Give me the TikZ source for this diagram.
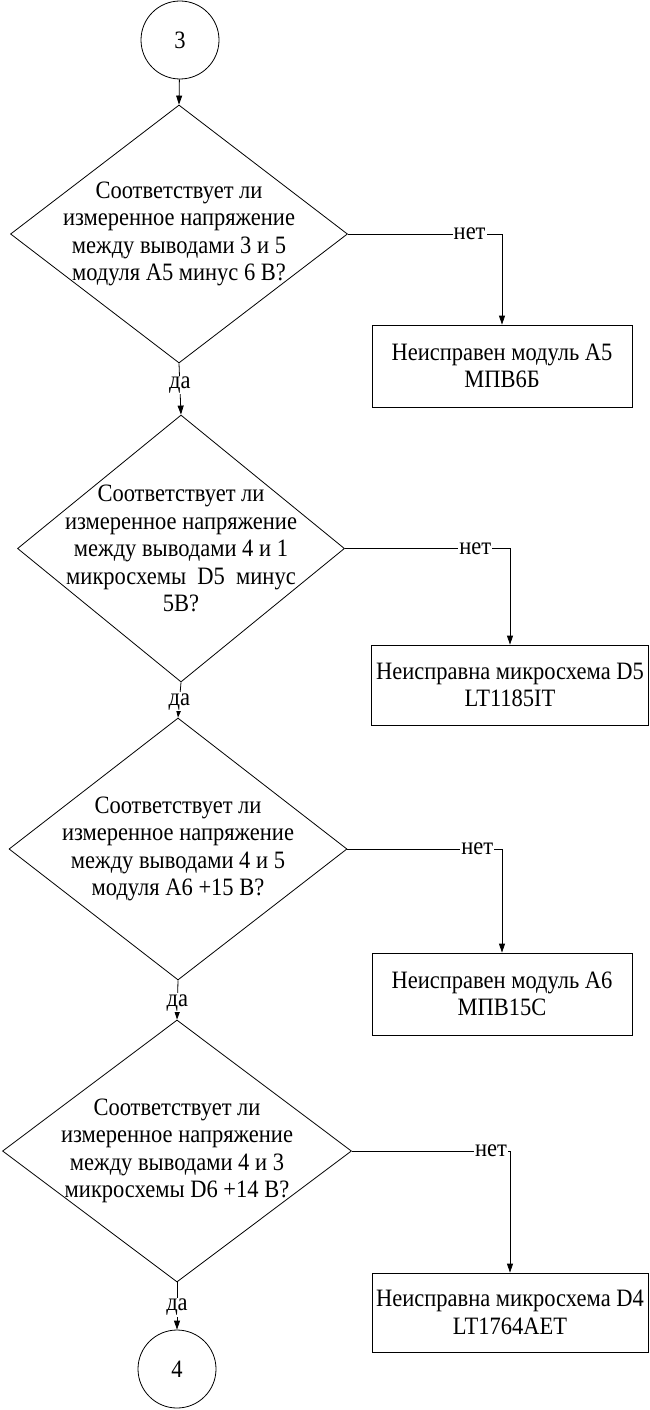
\documentclass[tikz,border=0pt]{standalone}
\usepackage{fontspec}
\setmainfont{Liberation Serif}[FakeStretch=0.9]
\usetikzlibrary{shapes.geometric,arrows.meta}
\newcommand\myfs{\fontsize{25}{27.5}\selectfont}
\begin{document}
\begin{tikzpicture}[x=1pt,y=-1pt, line width=0.8pt,
  dia/.style={draw, diamond, inner sep=0pt},
  conn/.style={draw, circle, minimum size=78pt, inner sep=0pt, font=\myfs},
  box/.style={draw, rectangle, inner sep=0pt, align=center, font=\myfs},
  qtext/.style={align=center, font=\myfs},
  lbl/.style={fill=white, inner sep=1pt, font=\myfs},
  arr/.style={-{Triangle[length=9pt,width=6pt]}}]
\useasboundingbox (0,0) rectangle (649,1410);

\node[conn] (c3) at (180,40) {3};

\node[dia, minimum width=337pt, minimum height=258pt] (d1) at (179,234) {};
\node[qtext] at (d1.center) {Соответствует ли\\измеренное напряжение\\между выводами 3 и 5\\модуля А5 минус 6 В?};
\node[box, minimum width=260pt, minimum height=82pt] (b1) at (502,366) {Неисправен модуль А5\\МПВ6Б};

\node[dia, minimum width=327pt, minimum height=267pt] (d2) at (181,548.5) {};
\node[qtext] at (d2.center) {Соответствует ли\\измеренное напряжение\\между выводами 4 и 1\\микросхемы\ \ D5\ \ минус\\5В?};
\node[box, minimum width=277pt, minimum height=80pt] (b2) at (510,685) {Неисправна микросхема D5\\LT1185IT};

\node[dia, minimum width=338pt, minimum height=262pt] (d3) at (178,849) {};
\node[qtext] at (d3.center) {Соответствует ли\\измеренное напряжение\\между выводами 4 и 5\\модуля А6 +15 В?};
\node[box, minimum width=260pt, minimum height=82pt] (b3) at (502,994) {Неисправен модуль А6\\МПВ15С};

\node[dia, minimum width=349pt, minimum height=262pt] (d4) at (177,1151) {};
\node[qtext] at (d4.center) {Соответствует ли\\измеренное напряжение\\между выводами 4 и 3\\микросхемы D6 +14 В?};
\node[box, minimum width=276pt, minimum height=79pt] (b4) at (510,1312.5) {Неисправна микросхема D4\\LT1764AET};

\node[conn] (c4) at (177,1369) {4};

\draw[arr] (c3) -- (d1.north);
\draw[arr] (d1.south) -- node[lbl, pos=0.42] {да} (d2.north);
\draw[arr] (d2.south) -- node[lbl, pos=0.55] {да} (d3.north);
\draw[arr] (d3.south) -- node[lbl, pos=0.57] {да} (d4.north);
\draw[arr] (d4.south) -- node[lbl, pos=0.53] {да} (c4.north);

\draw[arr] (d1.east) -- node[lbl, pos=0.79] {нет} (d1.east -| b1.north) -- (b1.north);
\draw[arr] (d2.east) -- node[lbl, pos=0.79] {нет} (d2.east -| b2.north) -- (b2.north);
\draw[arr] (d3.east) -- node[lbl, pos=0.84] {нет} (d3.east -| b3.north) -- (b3.north);
\draw[arr] (d4.east) -- node[lbl, pos=0.88] {нет} (d4.east -| b4.north) -- (b4.north);
\end{tikzpicture}
\end{document}
